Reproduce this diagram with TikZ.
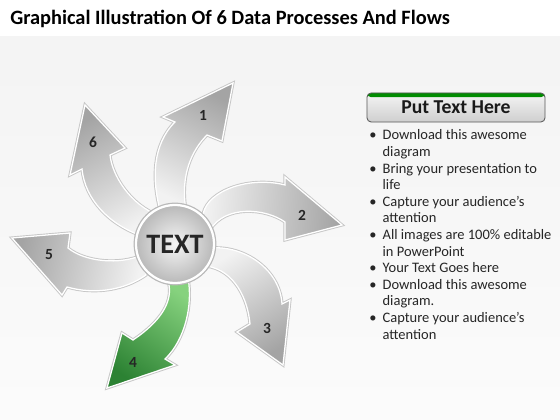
\documentclass[tikz,border=0pt]{standalone}
\usepackage{fontspec}
\setmainfont{Carlito}
\usetikzlibrary{positioning}
\definecolor{gtip}{HTML}{2C8233}
\definecolor{gbase}{HTML}{86D27E}
\definecolor{atip}{HTML}{A4A4A4}
\definecolor{abase}{HTML}{F2F2F2}
\begin{document}
\begin{tikzpicture}[x=0.025cm,y=-0.025cm,
  grayarrow/.style={top color=atip,bottom color=abase,shading angle=#1,
    draw=white,line width=0.9pt,preaction={draw=gray!45,line width=2.2pt}},
  greenarrow/.style={top color=gtip,bottom color=gbase,shading angle=#1,
    draw=white,line width=0.9pt,preaction={draw=gray!45,line width=2.2pt}},
  num/.style={font=\fontsize{11}{13}\selectfont\bfseries,text=black!85}]
 \useasboundingbox (0,0) rectangle (560,420);
 \fill[white] (0,0) rectangle (560,37);
 \shade[top color=gray!9,bottom color=gray!3] (0,37) rectangle (560,420);
 \node[anchor=base west,inner sep=0,font=\fontsize{14.5}{17}\selectfont\bfseries] (title) at (10,25)
  {Graphical Illustration Of 6 Data Processes And Flows};
 % arrows
 \path[grayarrow=-27] (160,210) .. controls (152,180) and (152,145) .. (175,122) -- (163,117) -- (233,83)
  -- (222,141) -- (207,135) .. controls (192,150) and (180,175) .. (186,210) -- cycle;
 \path[grayarrow=-94] (203,214) .. controls (208,190) and (250,176) .. (285,185) -- (285,177) -- (342,225)
  -- (285,240) -- (285,222) .. controls (265,208) and (225,205) .. (210,230) -- cycle;
 \path[grayarrow=-148] (210,248) .. controls (245,245) and (280,270) .. (282,304) -- (290,300) -- (283,365)
  -- (237,332) -- (250,324) .. controls (248,300) and (235,270) .. (206,266) -- cycle;
 \path[greenarrow=145] (167,278) .. controls (176,300) and (160,322) .. (133,340) -- (122,333) -- (107,388)
  -- (175,365) -- (165,359) .. controls (185,340) and (193,305) .. (188,278) -- cycle;
 \path[grayarrow=78] (142,255) .. controls (120,265) and (85,262) .. (68,248) -- (70,233) -- (12,238)
  -- (62,295) -- (67,287) .. controls (95,295) and (125,290) .. (146,275) -- cycle;
 \path[grayarrow=29] (142,236) .. controls (110,225) and (85,200) .. (82,169) -- (70,175) -- (85,105)
  -- (125,148) -- (110,155) .. controls (112,175) and (130,205) .. (160,216) -- cycle;
 \node[num] (n1) at (203,115) {1};
 \node[num] (n2) at (302,215) {2};
 \node[num] (n3) at (267,328) {3};
 \node[num] (n4) at (133,362) {4};
 \node[num] (n5) at (49,255) {5};
 \node[num] (n6) at (93,142) {6};
 % hub
 \node[circle,minimum size=1.95cm,inner color=gray!8,outer color=gray!55,draw=white,line width=1.6pt,
  preaction={draw=gray!55,line width=3.4pt},font=\fontsize{20}{24}\selectfont\bfseries,text=black!85]
  (hub) at (175,244) {TEXT};
 % right panel
 \node[minimum width=4.45cm,minimum height=0.725cm,rounded corners=3pt,top color=gray!8,bottom color=gray!38,
  draw=gray!70!black,line width=0.6pt,font=\fontsize{14}{17}\selectfont\bfseries,text=black!90,
  path picture={\fill[green!55!black] (path picture bounding box.north west)
   rectangle ([yshift=-3pt]path picture bounding box.north east);}]
  (head) at (456,107.5) {\raisebox{-1pt}{Put Text Here}};
 \node[anchor=base west,inner sep=0,font=\fontsize{10.3}{11.8}\selectfont,text=black!85] (list) at (369,140)
  {\begin{tabular}[t]{@{}p{9.5pt}@{}l@{}}
   \textbullet & Download this awesome\\ & diagram\\
   \textbullet & Bring your presentation to\\ & life\\
   \textbullet & Capture your audience’s\\ & attention\\
   \textbullet & All images are 100\% editable\\ & in PowerPoint\\
   \textbullet & Your Text Goes here\\
   \textbullet & Download this awesome\\ & diagram.\\
   \textbullet & Capture your audience’s\\ & attention
  \end{tabular}};
\end{tikzpicture}
\end{document}
